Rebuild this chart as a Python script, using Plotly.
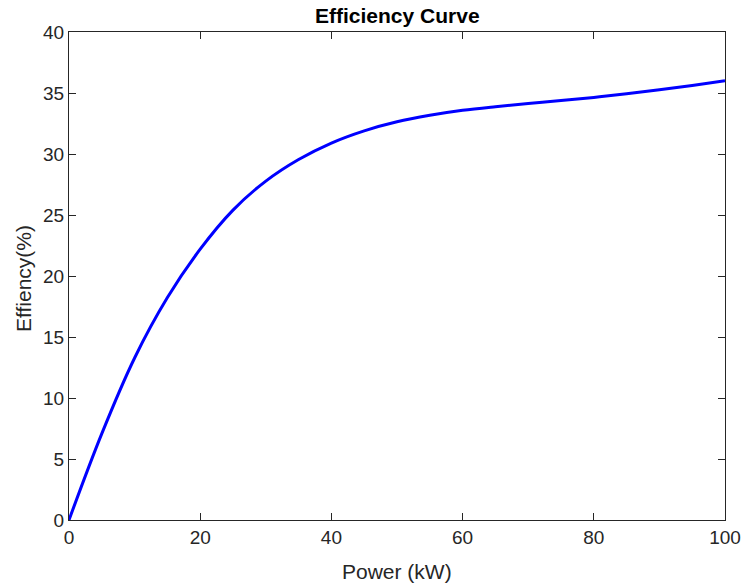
import plotly.graph_objects as go

# Efficiency vs. output power
power_kw = [0, 5, 10, 15, 20, 25, 30, 35, 40, 45, 50,
            55, 60, 65, 70, 75, 80, 85, 90, 95, 100]
efficiency_pct = [0, 7.08, 13.28, 18.23, 22.2, 25.4, 27.78, 29.55, 30.9, 31.9, 32.64,
                  33.17, 33.58, 33.88, 34.14, 34.39, 34.64, 34.93, 35.26, 35.62, 36.0]

x_ticks = [0, 20, 40, 60, 80, 100]
y_ticks = [0, 5, 10, 15, 20, 25, 30, 35, 40]

AXIS_COLOR = "#262626"
FONT = "Liberation Sans, Arial, Helvetica, sans-serif"

fig = go.Figure(
    go.Scatter(
        x=power_kw,
        y=efficiency_pct,
        mode="lines",
        line=dict(color="#0000ff", width=3, shape="spline", smoothing=1.0),
        hoverinfo="x+y",
    )
)

axis_common = dict(
    showgrid=False,
    zeroline=False,
    showline=True,
    mirror="ticks",
    linecolor=AXIS_COLOR,
    linewidth=1,
    ticks="inside",
    ticklen=7,
    tickwidth=1,
    tickcolor=AXIS_COLOR,
    tickfont=dict(family=FONT, size=19, color=AXIS_COLOR),
    automargin=False,
)

fig.update_xaxes(range=[0, 100], tickvals=x_ticks, **axis_common)
fig.update_yaxes(range=[0, 40], tickvals=y_ticks, **axis_common)

# Title and axis labels
fig.add_annotation(
    text="<b>Efficiency Curve</b>",
    xref="paper", yref="paper", x=0.5, y=1,
    xanchor="center", yanchor="bottom", yshift=3,
    showarrow=False,
    font=dict(family=FONT, size=21, color="#000000"),
)
fig.add_annotation(
    text="Power (kW)",
    xref="paper", yref="paper", x=0.5, y=0,
    xanchor="center", yanchor="middle", yshift=-51,
    showarrow=False,
    font=dict(family=FONT, size=21, color=AXIS_COLOR),
)
fig.add_annotation(
    text="Effiency(%)",
    xref="paper", yref="paper", x=0, y=0.5,
    xanchor="center", yanchor="middle", xshift=-46, yshift=-3,
    textangle=-90,
    showarrow=False,
    font=dict(family=FONT, size=21, color=AXIS_COLOR),
)

fig.update_layout(
    width=742,
    height=587,
    autosize=False,
    margin=dict(l=69, r=17, t=32, b=67, pad=0),
    paper_bgcolor="white",
    plot_bgcolor="white",
    showlegend=False,
)

fig.write_html("out.html")
